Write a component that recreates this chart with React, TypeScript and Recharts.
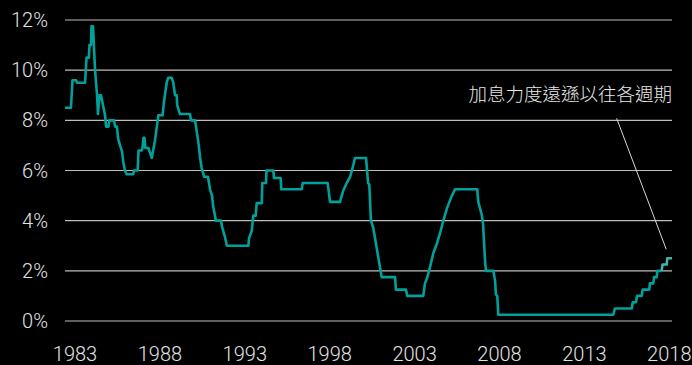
import React from 'react';
import {
  LineChart,
  Line,
  XAxis,
  YAxis,
  CartesianGrid,
  ReferenceLine,
  ReferenceDot,
} from 'recharts';

// Policy rate path, vertices as (decimal year, %)
const rateYears = [
  1982.41, 1982.76, 1982.85, 1983.06, 1983.12, 1983.59, 1983.68, 1983.82, 1983.85, 1983.94,
  1983.97, 1984.06, 1984.18, 1984.3, 1984.35, 1984.44, 1984.53, 1984.77, 1984.83, 1984.97,
  1985.02, 1985.3, 1985.36, 1985.47, 1985.53, 1985.65, 1985.77, 1985.84, 1985.94, 1986.04,
  1986.43, 1986.47, 1986.69, 1986.74, 1986.93, 1986.98, 1987.03, 1987.09, 1987.14, 1987.32,
  1987.52, 1987.71, 1987.91, 1988.16, 1988.18, 1988.24, 1988.4, 1988.49, 1988.69, 1988.79,
  1988.89, 1988.99, 1989.02, 1989.18, 1989.77, 1989.83, 1990.07, 1990.26, 1990.36, 1990.46,
  1990.6, 1990.83, 1990.95, 1991.07, 1991.13, 1991.3, 1991.6, 1991.66, 1991.83, 1991.95,
  1993.21, 1993.25, 1993.41, 1993.5, 1993.64, 1993.7, 1994.0, 1994.03, 1994.25, 1994.28,
  1994.68, 1994.72, 1995.11, 1995.15, 1996.35, 1996.41, 1997.88, 1998.02, 1998.61, 1998.71,
  1998.8, 1999.0, 1999.2, 1999.31, 1999.49, 2000.14, 2000.26, 2000.33, 2000.43, 2000.57,
  2001.06, 2001.85, 2001.9, 2002.49, 2002.57, 2003.51, 2003.61, 2003.73, 2003.91, 2004.1,
  2004.32, 2004.5, 2004.69, 2004.91, 2005.08, 2005.2, 2005.38, 2006.69, 2006.75, 2006.95,
  2007.03, 2007.1, 2007.16, 2007.21, 2007.64, 2007.74, 2007.79, 2007.87, 2007.93, 2014.7,
  2014.8, 2015.79, 2015.85, 2016.04, 2016.1, 2016.38, 2016.43, 2016.82, 2016.86, 2017.06,
  2017.1, 2017.26, 2017.29, 2017.55,
];
const rateValues = [
  8.5, 8.5, 9.6, 9.6, 9.5, 9.5, 10.5, 10.5, 11.0, 11.0,
  11.75, 11.75, 10.0, 9.0, 8.25, 9.0, 9.0, 8.2, 7.75, 7.75,
  8.0, 8.0, 7.75, 7.75, 7.3, 7.0, 6.75, 6.35, 6.0, 5.85,
  5.85, 6.0, 6.0, 6.8, 6.8, 6.9, 7.3, 7.3, 6.9, 6.9,
  6.5, 7.2, 8.2, 8.2, 8.35, 8.75, 9.5, 9.7, 9.7, 9.5,
  9.0, 9.0, 8.6, 8.25, 8.25, 8.0, 8.0, 7.15, 6.55, 6.1,
  5.75, 5.75, 5.25, 5.0, 4.6, 4.0, 4.0, 3.75, 3.35, 3.0,
  3.0, 3.3, 3.6, 4.2, 4.2, 4.7, 4.7, 5.5, 5.5, 6.0,
  6.0, 5.7, 5.7, 5.25, 5.25, 5.5, 5.5, 4.75, 4.75, 5.0,
  5.2, 5.5, 5.75, 6.0, 6.5, 6.5, 5.5, 5.45, 4.0, 3.7,
  1.75, 1.75, 1.25, 1.25, 1.0, 1.0, 1.5, 1.7, 2.15, 2.7,
  3.1, 3.5, 4.0, 4.5, 4.8, 5.0, 5.25, 5.25, 4.75, 4.25,
  3.9, 3.0, 2.3, 2.0, 2.0, 1.6, 1.05, 1.0, 0.25, 0.25,
  0.5, 0.5, 0.75, 0.75, 1.0, 1.0, 1.25, 1.25, 1.5, 1.5,
  1.75, 1.75, 2.0, 2.0,
];

// Most recent hikes, drawn in a lighter tone
const latestYears = [2017.55, 2017.6, 2017.85, 2017.88, 2018.16];
const latestValues = [2.0, 2.25, 2.25, 2.5, 2.5];

const yearTicks = [1983, 1988, 1993, 1998, 2003, 2008, 2013, 2018];
const percentTicks = [0, 2, 4, 6, 8, 10, 12];

const noteText = '加息力度遠遜以往各週期';

const rateData = rateYears.map((year, i) => ({ year, rate: rateValues[i] }));
const latestData = latestYears.map((year, i) => ({ year, rate: latestValues[i] }));

const tickFont = {
  fill: '#e2e2e2',
  fontSize: 20,
  fontFamily: 'Roboto, "Liberation Sans", sans-serif',
  fontWeight: 300,
};

const NoteLabel = (props: any) => (
  <text
    x={props.cx}
    y={props.cy}
    textAnchor="end"
    dominantBaseline="central"
    fill="#e8e8e8"
    fontSize={18.5}
    fontWeight={300}
    fontFamily='"Noto Sans CJK TC", "Noto Sans CJK SC", sans-serif'
  >
    {noteText}
  </text>
);

export default function App() {
  return (
    <div style={{ position: 'absolute', left: 0, top: 0, width: 692, height: 365, background: '#000' }}>
      <LineChart width={692} height={365} data={rateData} margin={{ top: 20, right: 20, bottom: 0, left: 0 }}>
        <CartesianGrid vertical={false} stroke="#bdbdbd" strokeWidth={1.2} />
        <XAxis
          dataKey="year"
          type="number"
          domain={[1982.41, 2018.16]}
          allowDataOverflow
          ticks={yearTicks}
          axisLine={false}
          tickLine={false}
          tickSize={0}
          tickMargin={26}
          height={44}
          tick={tickFont}
          interval={0}
        />
        <YAxis
          type="number"
          domain={[0, 12]}
          ticks={percentTicks}
          tickFormatter={(v) => `${v}%`}
          axisLine={false}
          tickLine={false}
          tickSize={0}
          tickMargin={17}
          width={65}
          tick={tickFont}
          interval={0}
        />
        <ReferenceLine
          segment={[
            { x: 2014.9, y: 8.08 },
            { x: 2017.82, y: 2.86 },
          ]}
          stroke="#d8d8d8"
          strokeWidth={1}
          ifOverflow="visible"
        />
        <ReferenceDot x={2018.16} y={9.09} r={0} ifOverflow="visible" shape={NoteLabel} />
        <Line
          data={rateData}
          dataKey="rate"
          type="linear"
          stroke="#00a19a"
          strokeWidth={2.6}
          dot={false}
          strokeLinejoin="round"
          isAnimationActive={false}
        />
        <Line
          data={latestData}
          dataKey="rate"
          type="linear"
          stroke="#45b3ab"
          strokeWidth={2.6}
          dot={false}
          strokeLinejoin="round"
          isAnimationActive={false}
        />
      </LineChart>
    </div>
  );
}
